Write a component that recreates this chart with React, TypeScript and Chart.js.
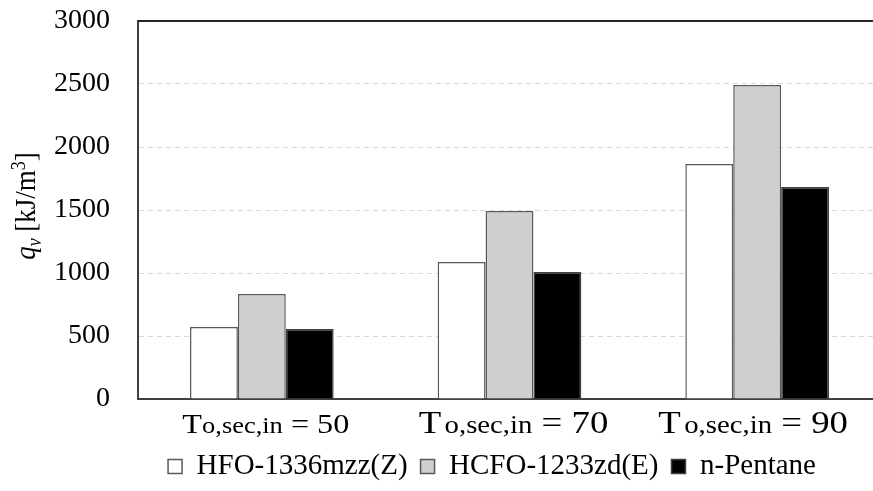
import React, { useEffect, useRef } from "react";
import { Chart, registerables } from "chart.js";

Chart.register(...registerables);

// ---- data ----
const categories = ["50", "70", "90"];
const xLabelMain = "T";
const xLabelSub = "o,sec,in";
const seriesNames = ["HFO-1336mzz(Z)", "HCFO-1233zd(E)", "n-Pentane"];
const hfo1336mzzZ = [571, 1087, 1865];
const hcfo1233zdE = [833, 1492, 2492];
const nPentane = [556, 1008, 1683];
const yMin = 0;
const yMax = 3000;
const yStep = 500;

const FONT = "'Liberation Serif', 'Times New Roman', serif";

const titlePlugin = {
  id: "yTitleRich",
  afterDraw(chart: any) {
    const { ctx, chartArea } = chart;
    const cy = (chartArea.top + chartArea.bottom) / 2 - 4;
    const cx = 25;
    const big = 27;
    const small = 18;
    const parts = [
      { t: "q", f: `italic ${big}px ${FONT}`, dy: 0 },
      { t: "v", f: `italic ${small}px ${FONT}`, dy: 5 },
      { t: " [kJ/m", f: `${big}px ${FONT}`, dy: 0 },
      { t: "3", f: `${small}px ${FONT}`, dy: -9 },
      { t: "]", f: `${big}px ${FONT}`, dy: 0 },
    ];
    ctx.save();
    let total = 0;
    const widths = parts.map((p) => {
      ctx.font = p.f;
      const w = ctx.measureText(p.t).width;
      total += w;
      return w;
    });
    ctx.translate(cx, cy);
    ctx.rotate(-Math.PI / 2);
    ctx.scale(1, 1.12);
    ctx.fillStyle = "#000";
    ctx.textBaseline = "alphabetic";
    ctx.textAlign = "left";
    let x = -total / 2;
    const baseY = 9;
    parts.forEach((p, i) => {
      ctx.font = p.f;
      ctx.fillText(p.t, x, baseY + p.dy);
      x += widths[i];
    });
    ctx.restore();
  },
};

const xLabelPlugin = {
  id: "xLabelsRich",
  afterDraw(chart: any) {
    const { ctx, chartArea } = chart;
    const xs = chart.scales.x;
    const baseY = chartArea.bottom + 34;
    const sx = 1.15;
    categories.forEach((c, i) => {
      const big = i === 0 ? 28 : 32;
      const small = i === 0 ? 23 : 25;
      const gap = i === 0 ? 0 : 3;
      const parts = [
        { t: xLabelMain, f: `${big}px ${FONT}`, g: 0 },
        { t: xLabelSub, f: `${small}px ${FONT}`, g: gap },
        { t: " = " + c, f: `${big}px ${FONT}`, g: 0 },
      ];
      ctx.save();
      let total = 0;
      const widths = parts.map((p) => {
        ctx.font = p.f;
        const w = ctx.measureText(p.t).width + p.g;
        total += w;
        return w;
      });
      const cx = xs.getPixelForValue(i) + (i === 2 ? -4 : 4);
      ctx.translate(cx, baseY);
      ctx.scale(sx, 1);
      ctx.fillStyle = "#000";
      ctx.textBaseline = "alphabetic";
      ctx.textAlign = "left";
      let x = -total / 2;
      parts.forEach((p, k) => {
        ctx.font = p.f;
        ctx.fillText(p.t, x + p.g, 0);
        x += widths[k];
      });
      ctx.restore();
    });
  },
};

const topLinePlugin = {
  id: "topLine",
  afterDraw(chart: any) {
    const { ctx, chartArea } = chart;
    ctx.save();
    ctx.strokeStyle = "#262626";
    ctx.lineWidth = 2;
    ctx.beginPath();
    ctx.moveTo(chartArea.left, chartArea.top);
    ctx.lineTo(chartArea.right, chartArea.top);
    ctx.stroke();
    ctx.restore();
  },
};

const legendShiftPlugin = {
  id: "legendShift",
  afterLayout(chart: any) {
    const lg = chart.legend;
    if (!lg) return;
    const w = lg.right - lg.left;
    const center = 492;
    lg.left = center - w / 2;
    lg.right = center + w / 2;
  },
};

export default function App() {
  const ref = useRef<HTMLCanvasElement | null>(null);
  useEffect(() => {
    document.body.style.margin = "0";
    const canvas = ref.current;
    if (!canvas) return;
    const chart = new Chart(canvas, {
      type: "bar",
      data: {
        labels: categories.map((c) => `${xLabelMain}${xLabelSub} = ${c}`),
        datasets: [
          {
            label: seriesNames[0],
            data: hfo1336mzzZ,
            backgroundColor: "#ffffff",
            borderColor: "#595959",
            borderWidth: 1.5,
          },
          {
            label: seriesNames[1],
            data: hcfo1233zdE,
            backgroundColor: "#d0cece",
            borderColor: "#595959",
            borderWidth: 1.5,
          },
          {
            label: seriesNames[2],
            data: nPentane,
            backgroundColor: "#000000",
            borderColor: "#404040",
            borderWidth: 1.5,
          },
        ],
      },
      options: {
        responsive: false,
        animation: false,
        devicePixelRatio: 1,
        layout: { padding: { top: 21, left: 0, right: 0, bottom: 0 } },
        datasets: {
          bar: { categoryPercentage: 0.58, barPercentage: 1 },
        },
        plugins: {
          legend: {
            position: "bottom",
            labels: {
              font: { family: FONT, size: 29 },
              color: "#000",
              boxWidth: 14,
              boxHeight: 14,
              padding: 13,
            },
          },
          tooltip: { enabled: false },
          title: { display: false },
        },
        scales: {
          x: {
            grid: { display: false },
            border: { display: true, color: "#404040", width: 2 },
            ticks: { display: false },
            afterFit(scale: any) {
              scale.height = 40;
              scale.paddingLeft = 0;
              scale.paddingRight = 0;
            },
          },
          y: {
            min: yMin,
            max: yMax,
            ticks: {
              stepSize: yStep,
              font: { family: FONT, size: 28 },
              color: "#000",
              padding: 28,
              callback: (v: any) => String(v),
            },
            grid: { color: "#d9d9d9", lineWidth: 1, drawTicks: false },
            border: { display: true, color: "#404040", width: 2, dash: [5, 4] },
            afterFit(scale: any) {
              scale.width = 138;
              scale.paddingTop = 0;
              scale.paddingBottom = 0;
            },
          },
        },
      },
      plugins: [titlePlugin, xLabelPlugin, topLinePlugin, legendShiftPlugin],
    });
    return () => chart.destroy();
  }, []);
  return (
    <div style={{ width: 873, height: 491, overflow: "hidden", position: "relative" }}>
      <canvas ref={ref} width={881} height={491} style={{ display: "block" }} />
    </div>
  );
}
